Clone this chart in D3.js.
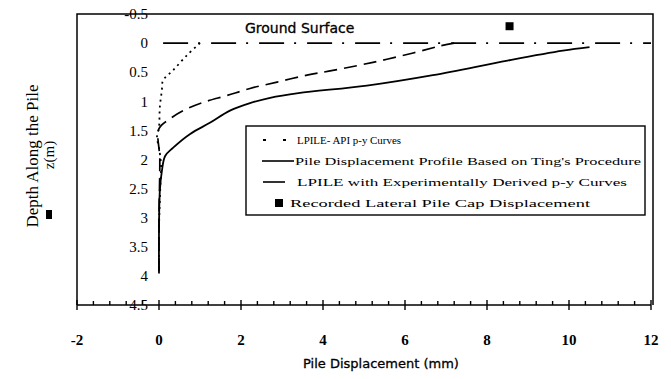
<!DOCTYPE html>
<html>
<head>
<meta charset="utf-8">
<script src="https://cdn.jsdelivr.net/npm/d3@7"></script>
<style>
  html, body { margin: 0; padding: 0; background: #fff; }
  svg { display: block; }
</style>
</head>
<body>
<div id="chart"></div>
<script>
// ------------------------------------------------------------------ DATA
// [displacement (mm), depth (m)]
const apiCurve = [
  [1.0, 0], [0.68, 0.21], [0.34, 0.47], [0.1, 0.64], [0.07, 0.81],
  [0.02, 1.1], [0, 1.45], [-0.05, 1.62], [0, 1.8], [0.05, 2.1],
  [0.03, 2.5], [0, 3.2], [0, 3.95]
];
const tingCurve = [
  [10.5, 0.07], [9.85, 0.13], [8.5, 0.3], [6.68, 0.55],
  [5.07, 0.73], [3.4, 0.86], [2.71, 0.94], [2.22, 1.03], [1.73, 1.16],
  [1.24, 1.37], [0.76, 1.56], [0.34, 1.8], [0.15, 1.94], [0.07, 2.2],
  [0.02, 2.54], [0, 3.24], [0, 3.96]
];
const expCurve = [
  [7.2, 0], [6.85, 0.05], [6.2, 0.17], [5.22, 0.33], [4.24, 0.47],
  [3.61, 0.55], [2.88, 0.67], [2.22, 0.78], [1.66, 0.9], [1.07, 1.02],
  [0.59, 1.16], [0.27, 1.3], [0, 1.47], [0.02, 2.0], [0, 3.0], [0, 3.95]
];
const groundLine = [[0.1, 0], [12, 0]];
const recorded = [[8.55, -0.29]];

const xTicks = [-2, 0, 2, 4, 6, 8, 10, 12];
const yTicks = [-0.5, 0, 0.5, 1, 1.5, 2, 2.5, 3, 3.5, 4, 4.5];
const legendLabels = [
  'LPILE- API p-y Curves',
  "Pile Displacement Profile Based on Ting's Procedure",
  'LPILE with Experimentally Derived p-y Curves',
  'Recorded Lateral Pile Cap Displacement'
];

// ------------------------------------------------------------------ SVG
const width = 671, height = 379;
const svg = d3.select('#chart').append('svg')
  .attr('width', width)
  .attr('height', height);

const x = d3.scaleLinear().domain([-2, 12]).range([77, 651]);
const y = d3.scaleLinear().domain([-0.5, 4.5]).range([14, 305]);

const serif = '"Liberation Serif", "Times New Roman", serif';
const sans = '"DejaVu Sans", sans-serif';

// ------------------------------------------------------------------ FRAME
svg.append('path')
  .attr('d', `M${x(-2)},${y(4.5)} V${y(-0.5)} H${x(12) + 2} V${y(4.5)}`)
  .attr('fill', 'none')
  .attr('stroke', '#000')
  .attr('stroke-width', 1.5);

// ------------------------------------------------------------------ X AXIS
const xAxis = svg.append('g');
xAxis.append('line')
  .attr('x1', x(-2)).attr('x2', x(12))
  .attr('y1', y(4.5)).attr('y2', y(4.5))
  .attr('stroke', '#000').attr('stroke-width', 1.6);

const minor = d3.range(-2, 12.01, 0.4).filter(v => Math.abs(v / 2 - Math.round(v / 2)) > 0.01);
xAxis.selectAll('line.minor')
  .data(minor)
  .join('line')
  .attr('class', 'minor')
  .attr('x1', d => x(d)).attr('x2', d => x(d))
  .attr('y1', y(4.5)).attr('y2', y(4.5) - 4)
  .attr('stroke', '#000').attr('stroke-width', 1.4);

xAxis.selectAll('line.major')
  .data(xTicks)
  .join('line')
  .attr('class', 'major')
  .attr('x1', d => x(d)).attr('x2', d => x(d))
  .attr('y1', y(4.5) - 5).attr('y2', y(4.5) + 5)
  .attr('stroke', '#000').attr('stroke-width', 1.4);

xAxis.selectAll('text')
  .data(xTicks)
  .join('text')
  .attr('x', d => x(d))
  .attr('y', 345)
  .attr('text-anchor', 'middle')
  .attr('font-family', serif)
  .attr('font-weight', 'bold')
  .attr('font-size', 15)
  .text(d => d);

// ------------------------------------------------------------------ Y AXIS LABELS
svg.append('g')
  .selectAll('text')
  .data(yTicks)
  .join('text')
  .attr('x', 148)
  .attr('y', d => y(d))
  .attr('dy', '0.35em')
  .attr('text-anchor', 'end')
  .attr('font-family', serif)
  .attr('font-size', 15)
  .text(d => d);

// ------------------------------------------------------------------ TITLES
svg.append('text')
  .attr('transform', 'translate(38,156) rotate(-90)')
  .attr('text-anchor', 'middle')
  .attr('font-family', serif)
  .attr('font-size', 17)
  .text('Depth Along the Pile');

svg.append('text')
  .attr('transform', 'translate(54,155) rotate(-90)')
  .attr('text-anchor', 'middle')
  .attr('font-family', serif)
  .attr('font-size', 15)
  .text('z(m)');

svg.append('rect')
  .attr('x', 46).attr('y', 210).attr('width', 6).attr('height', 9)
  .attr('fill', '#000');

svg.append('text')
  .attr('x', 381)
  .attr('y', 368)
  .attr('text-anchor', 'middle')
  .attr('font-family', sans)
  .attr('font-size', 13)
  .attr('stroke', '#000').attr('stroke-width', 0.3)
  .text('Pile Displacement (mm)');

svg.append('text')
  .attr('x', 245)
  .attr('y', 33)
  .attr('font-family', sans)
  .attr('font-size', 14)
  .attr('stroke', '#000').attr('stroke-width', 0.3)
  .text('Ground Surface');

// ------------------------------------------------------------------ CURVES
const line = d3.line()
  .x(d => x(d[0]))
  .y(d => y(d[1]))
  .curve(d3.curveCatmullRom.alpha(0.5));

svg.append('path')
  .datum(groundLine)
  .attr('d', d3.line().x(d => x(d[0])).y(d => y(d[1])))
  .attr('fill', 'none')
  .attr('stroke', '#000')
  .attr('stroke-width', 1.6)
  .attr('stroke-dasharray', '25 10 2 11');

svg.append('path')
  .datum(apiCurve)
  .attr('d', line)
  .attr('fill', 'none')
  .attr('stroke', '#000')
  .attr('stroke-width', 1.8)
  .attr('stroke-dasharray', '2 4');

svg.append('path')
  .datum(expCurve)
  .attr('d', line)
  .attr('fill', 'none')
  .attr('stroke', '#000')
  .attr('stroke-width', 1.7)
  .attr('stroke-dasharray', '13 7');

svg.append('path')
  .datum(tingCurve)
  .attr('d', line)
  .attr('fill', 'none')
  .attr('stroke', '#000')
  .attr('stroke-width', 1.8);

svg.selectAll('rect.rec')
  .data(recorded)
  .join('rect')
  .attr('class', 'rec')
  .attr('x', d => x(d[0]) - 4)
  .attr('y', d => y(d[1]) - 4)
  .attr('width', 8).attr('height', 8)
  .attr('fill', '#000');

// ------------------------------------------------------------------ LEGEND
const lg = svg.append('g');
lg.append('rect')
  .attr('x', 246).attr('y', 126).attr('width', 399).attr('height', 89)
  .attr('fill', '#fff')
  .attr('stroke', '#000').attr('stroke-width', 1.4);

const rowY = [140, 161, 182, 203];
const textX = [297, 295, 297, 290];
const textW = [104, 346, 330, 300];

lg.append('line')
  .attr('x1', 263).attr('x2', 290).attr('y1', rowY[0]).attr('y2', rowY[0])
  .attr('stroke', '#000').attr('stroke-width', 2).attr('stroke-dasharray', '3 17');
lg.append('line')
  .attr('x1', 262).attr('x2', 294).attr('y1', rowY[1]).attr('y2', rowY[1])
  .attr('stroke', '#000').attr('stroke-width', 1.6);
lg.append('line')
  .attr('x1', 263).attr('x2', 285).attr('y1', rowY[2]).attr('y2', rowY[2])
  .attr('stroke', '#000').attr('stroke-width', 1.6);
lg.append('rect')
  .attr('x', 275).attr('y', rowY[3] - 4).attr('width', 8).attr('height', 8)
  .attr('fill', '#000');

lg.selectAll('text')
  .data(legendLabels)
  .join('text')
  .attr('x', (d, i) => textX[i])
  .attr('y', (d, i) => rowY[i])
  .attr('dy', '0.35em')
  .attr('font-family', serif)
  .attr('font-size', 11)
  .attr('textLength', (d, i) => textW[i])
  .attr('lengthAdjust', 'spacingAndGlyphs')
  .text(d => d);
</script>
</body>
</html>
